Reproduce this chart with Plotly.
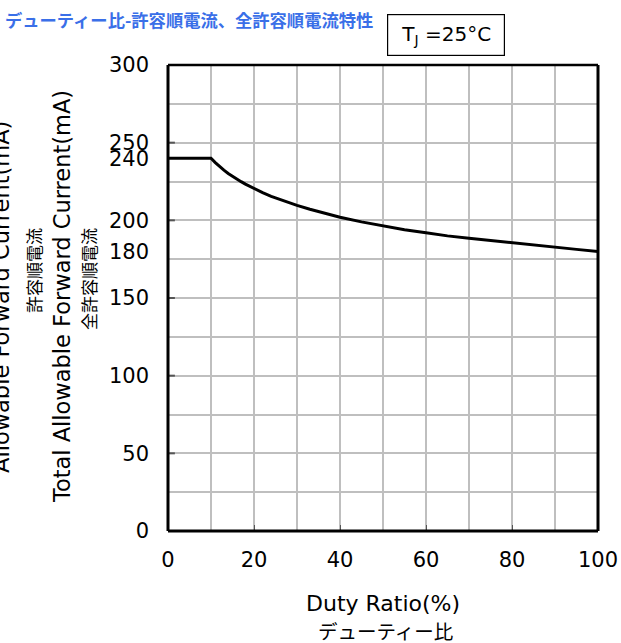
import plotly.graph_objects as go

# Duty ratio (%) vs allowable forward current (mA)
duty_ratio = [0, 10, 11, 12, 13, 14, 15, 16, 17, 18, 19, 20, 22, 24, 26, 28, 30, 33, 36, 40,
              45, 50, 55, 60, 65, 70, 75, 80, 85, 90, 95, 100]
forward_current = [240, 240, 237.2, 234.6, 232.3, 230.2, 228.3, 226.5, 224.9, 223.3, 221.9, 220.3,
                   217.8, 215.4, 213.3, 211.4, 209.6, 207.1, 205, 202, 199, 196.5, 194, 192, 190,
                   188.5, 187, 185.5, 184, 182.5, 181.3, 180]

x_tickvals = [0, 20, 40, 60, 80, 100]
y_tickvals = [0, 50, 100, 150, 180, 200, 240, 250, 300]

title_text = "デューティー比-許容順電流、全許容順電流特性"
temp_text = "T<sub>J</sub> =25°C"
x_title_lines = ["Duty Ratio(%)", "デューティー比"]
y_titles = ["Allowable Forward Current(mA)", "許容順電流",
            "Total Allowable Forward Current(mA)", "全許容順電流"]

font_family = "DejaVu Sans, Noto Sans CJK JP"
cjk_family = "Noto Sans CJK JP"
grid_color = "#bfbfbf"

W, H = 621, 643
L, R, T, B = 168, 23, 65, 112
PW, PH = W - L - R, H - T - B


def px(x):
    return (x - L) / PW


def py(y):
    return (H - B - y) / PH


fig = go.Figure()
fig.add_trace(go.Scatter(x=duty_ratio, y=forward_current, mode="lines",
                         line=dict(color="black", width=3), showlegend=False))

fig.update_layout(
    width=W, height=H,
    margin=dict(l=L, r=R, t=T, b=B),
    paper_bgcolor="white", plot_bgcolor="white",
    font=dict(family=font_family, size=21, color="black"),
    xaxis=dict(range=[0, 100], tickvals=x_tickvals, ticks="inside", ticklen=6, tickcolor="#555555",
               showgrid=False, showline=False, zeroline=False, ticklabelstandoff=14, automargin=False,
               minor=dict(dtick=10, showgrid=True, gridcolor=grid_color, gridwidth=1.5, ticks="")),
    yaxis=dict(range=[0, 300], tickvals=y_tickvals, ticks="", showgrid=False, showline=False,
               zeroline=False, ticklabelstandoff=18, automargin=False,
               minor=dict(dtick=25, showgrid=True, gridcolor=grid_color, gridwidth=1.5, ticks="")),
)

# short inside tick marks at multiples of 50 on the left axis
for v in [50, 100, 150, 200, 250]:
    fig.add_shape(type="line", xref="paper", yref="y", x0=0, x1=0.016, y0=v, y1=v,
                  line=dict(color="#555555", width=2))

# plot frame: heavier on left, bottom and right
fig.add_shape(type="line", xref="paper", yref="paper", x0=0, x1=1, y0=1, y1=1, line=dict(color="black", width=2.5))
fig.add_shape(type="line", xref="paper", yref="paper", x0=0, x1=1, y0=0, y1=0, line=dict(color="black", width=3))
fig.add_shape(type="line", xref="paper", yref="paper", x0=0, x1=0, y0=0, y1=1, line=dict(color="black", width=3))
fig.add_shape(type="line", xref="paper", yref="paper", x0=1, x1=1, y0=0, y1=1, line=dict(color="black", width=3))

# title
fig.add_annotation(text="<b>" + title_text + "</b>", xref="paper", yref="paper", x=px(3), y=py(19),
                   xanchor="left", yanchor="middle", showarrow=False,
                   font=dict(size=17.3, color="#3a6fe8", family=cjk_family, weight=900))

# temperature box
fig.add_annotation(text=temp_text, xref="paper", yref="paper", x=px(446), y=py(35),
                   xanchor="center", yanchor="middle", showarrow=False,
                   font=dict(size=20), bordercolor="black", borderwidth=1.2,
                   width=114, height=38, borderpad=1, bgcolor="white")

# x axis titles
fig.add_annotation(text=x_title_lines[0], xref="paper", yref="paper", x=px(383), y=py(603),
                   xanchor="center", yanchor="middle", showarrow=False, font=dict(size=22))
fig.add_annotation(text=x_title_lines[1], xref="paper", yref="paper", x=px(385), y=py(630),
                   xanchor="center", yanchor="middle", showarrow=False,
                   font=dict(size=19.5, family=cjk_family))

# y axis titles (rotated)
y_title_x = [1, 33, 62, 88]
y_title_y = [297, 271, 297, 279]
for t, xx, yy in zip(y_titles, y_title_x, y_title_y):
    is_cjk = not t[0].isascii()
    fig.add_annotation(text=t, xref="paper", yref="paper", x=px(xx), y=py(yy),
                       xanchor="center", yanchor="middle", textangle=-90, showarrow=False,
                       font=dict(size=17 if is_cjk else 22.5,
                                 family=cjk_family if is_cjk else font_family))

fig.write_html("out.html", config={"displayModeBar": False},
               post_script="document.body.style.margin='0';")
